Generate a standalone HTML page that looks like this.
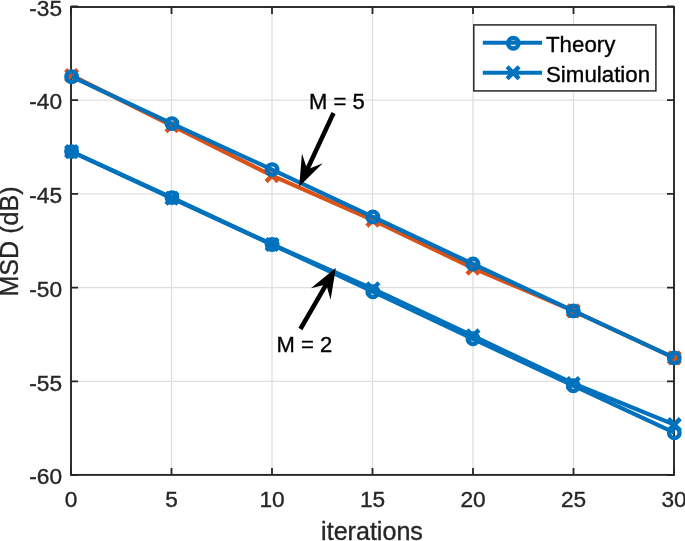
<!DOCTYPE html>
<html><head><meta charset="utf-8"><style>
html,body{margin:0;padding:0;background:#fff;}
body{width:685px;height:541px;position:relative;overflow:hidden;font-family:"Liberation Sans",sans-serif;}
svg text{font-family:"Liberation Sans",sans-serif;stroke:currentColor;stroke-width:0.35px;}
</style></head><body>
<svg width="685" height="541" viewBox="0 0 685 541" style="position:absolute;left:0;top:0;will-change:transform"><rect width="685" height="541" fill="#fff"/><path d="M171.50 7.0V474.9M272.00 7.0V474.9M372.50 7.0V474.9M473.00 7.0V474.9M573.50 7.0V474.9M71.0 100.17H674.0M71.0 193.89H674.0M71.0 287.61H674.0M71.0 381.33H674.0" stroke="#dfdfdf" stroke-width="1.3" fill="none"/><path d="M71.00 474.9v-7M71.00 7.0v7M171.50 474.9v-7M171.50 7.0v7M272.00 474.9v-7M272.00 7.0v7M372.50 474.9v-7M372.50 7.0v7M473.00 474.9v-7M473.00 7.0v7M573.50 474.9v-7M573.50 7.0v7M674.00 474.9v-7M674.00 7.0v7M71.0 6.45h7M674.0 6.45h-7M71.0 100.17h7M674.0 100.17h-7M71.0 193.89h7M674.0 193.89h-7M71.0 287.61h7M674.0 287.61h-7M71.0 381.33h7M674.0 381.33h-7M71.0 475.05h7M674.0 475.05h-7" stroke="#262626" stroke-width="1.8" fill="none"/><rect x="71.0" y="7.0" width="603.0" height="467.9" fill="none" stroke="#262626" stroke-width="1.9"/><path d="M71.60 75.50 L171.95 125.70 L272.10 175.60 L372.90 220.10 L473.00 268.10 L573.30 310.90 L674.30 357.90" stroke="#D95319" stroke-width="4.2" fill="none" stroke-linejoin="round"/><path d="M65.60 69.50L77.60 81.50M65.60 81.50L77.60 69.50M165.95 119.70L177.95 131.70M165.95 131.70L177.95 119.70M266.10 169.60L278.10 181.60M266.10 181.60L278.10 169.60M366.90 214.10L378.90 226.10M366.90 226.10L378.90 214.10M467.00 262.10L479.00 274.10M467.00 274.10L479.00 262.10M567.30 304.90L579.30 316.90M567.30 316.90L579.30 304.90M668.30 351.90L680.30 363.90M668.30 363.90L680.30 351.90" stroke="#D95319" stroke-width="4.4" fill="none"/><path d="M71.60 76.70 L171.95 123.60 L272.10 169.60 L372.90 216.90 L473.00 264.00 L573.30 310.90 L674.30 357.90" stroke="#0072BD" stroke-width="4.2" fill="none" stroke-linejoin="round"/><circle cx="71.60" cy="76.70" r="5.25" fill="none" stroke="#0072BD" stroke-width="4.4"/><circle cx="171.95" cy="123.60" r="5.25" fill="none" stroke="#0072BD" stroke-width="4.4"/><circle cx="272.10" cy="169.60" r="5.25" fill="none" stroke="#0072BD" stroke-width="4.4"/><circle cx="372.90" cy="216.90" r="5.25" fill="none" stroke="#0072BD" stroke-width="4.4"/><circle cx="473.00" cy="264.00" r="5.25" fill="none" stroke="#0072BD" stroke-width="4.4"/><circle cx="573.30" cy="310.90" r="5.25" fill="none" stroke="#0072BD" stroke-width="4.4"/><circle cx="674.30" cy="357.90" r="5.25" fill="none" stroke="#0072BD" stroke-width="4.4"/><path d="M71.60 151.60 L171.95 197.60 L272.10 244.50 L372.90 291.70 L473.00 338.80 L573.30 385.70 L674.30 432.70" stroke="#0072BD" stroke-width="4.2" fill="none" stroke-linejoin="round"/><circle cx="71.60" cy="151.60" r="5.25" fill="none" stroke="#0072BD" stroke-width="4.4"/><circle cx="171.95" cy="197.60" r="5.25" fill="none" stroke="#0072BD" stroke-width="4.4"/><circle cx="272.10" cy="244.50" r="5.25" fill="none" stroke="#0072BD" stroke-width="4.4"/><circle cx="372.90" cy="291.70" r="5.25" fill="none" stroke="#0072BD" stroke-width="4.4"/><circle cx="473.00" cy="338.80" r="5.25" fill="none" stroke="#0072BD" stroke-width="4.4"/><circle cx="573.30" cy="385.70" r="5.25" fill="none" stroke="#0072BD" stroke-width="4.4"/><circle cx="674.30" cy="432.70" r="5.25" fill="none" stroke="#0072BD" stroke-width="4.4"/><path d="M71.60 151.60 L171.95 198.30 L272.10 244.50 L372.90 288.80 L473.00 335.90 L573.30 383.50 L674.30 424.60" stroke="#0072BD" stroke-width="4.2" fill="none" stroke-linejoin="round"/><path d="M65.60 145.60L77.60 157.60M65.60 157.60L77.60 145.60M165.95 192.30L177.95 204.30M165.95 204.30L177.95 192.30M266.10 238.50L278.10 250.50M266.10 250.50L278.10 238.50M366.90 282.80L378.90 294.80M366.90 294.80L378.90 282.80M467.00 329.90L479.00 341.90M467.00 341.90L479.00 329.90M567.30 377.50L579.30 389.50M567.30 389.50L579.30 377.50M668.30 418.60L680.30 430.60M668.30 430.60L680.30 418.60" stroke="#0072BD" stroke-width="4.4" fill="none"/><text x="71.00" y="506.7" font-size="22.7" text-anchor="middle" fill="#262626" color="#262626">0</text><text x="171.50" y="506.7" font-size="22.7" text-anchor="middle" fill="#262626" color="#262626">5</text><text x="272.00" y="506.7" font-size="22.7" text-anchor="middle" fill="#262626" color="#262626">10</text><text x="372.50" y="506.7" font-size="22.7" text-anchor="middle" fill="#262626" color="#262626">15</text><text x="473.00" y="506.7" font-size="22.7" text-anchor="middle" fill="#262626" color="#262626">20</text><text x="573.50" y="506.7" font-size="22.7" text-anchor="middle" fill="#262626" color="#262626">25</text><text x="674.00" y="506.7" font-size="22.7" text-anchor="middle" fill="#262626" color="#262626">30</text><text x="62" y="15.65" font-size="22.7" text-anchor="end" fill="#262626" color="#262626">-35</text><text x="62" y="109.37" font-size="22.7" text-anchor="end" fill="#262626" color="#262626">-40</text><text x="62" y="203.09" font-size="22.7" text-anchor="end" fill="#262626" color="#262626">-45</text><text x="62" y="296.81" font-size="22.7" text-anchor="end" fill="#262626" color="#262626">-50</text><text x="62" y="390.53" font-size="22.7" text-anchor="end" fill="#262626" color="#262626">-55</text><text x="62" y="484.25" font-size="22.7" text-anchor="end" fill="#262626" color="#262626">-60</text><text x="372" y="539.9" font-size="25.1" text-anchor="middle" fill="#262626" color="#262626">iterations</text><text transform="translate(18.4 241.5) rotate(-90)" font-size="25.1" text-anchor="middle" fill="#262626" color="#262626">MSD (dB)</text><path d="M333.50 113.00L306.38 171.19" stroke="#000" stroke-width="4.5" fill="none"/><path d="M299.20 186.60L301.96 153.46L307.23 169.38L322.80 163.18Z" fill="#000"/><path d="M300.40 329.00L327.27 282.70" stroke="#000" stroke-width="4.5" fill="none"/><path d="M335.80 268.00L330.60 299.67L326.26 284.43L310.88 288.23Z" fill="#000"/><text x="309" y="108.8" font-size="22" fill="#000" color="#000">M = 5</text><text x="276.5" y="351.6" font-size="22" fill="#000" color="#000">M = 2</text><rect x="473.8" y="24.9" width="182.09999999999997" height="66.0" fill="#fff" stroke="#262626" stroke-width="1.5"/><path d="M482.8 42.8H542.1" stroke="#0072BD" stroke-width="4.0"/><circle cx="513.30" cy="43.30" r="5.25" fill="none" stroke="#0072BD" stroke-width="4.4"/><path d="M482.8 72.8H542.1" stroke="#0072BD" stroke-width="4.0"/><path d="M507.10 66.80L519.10 78.80M507.10 78.80L519.10 66.80" stroke="#0072BD" stroke-width="4.4" fill="none"/><text x="546" y="51.6" font-size="22.3" fill="#000" color="#000">Theory</text><text x="546" y="81.6" font-size="22.3" fill="#000" color="#000">Simulation</text></svg>
</body></html>
